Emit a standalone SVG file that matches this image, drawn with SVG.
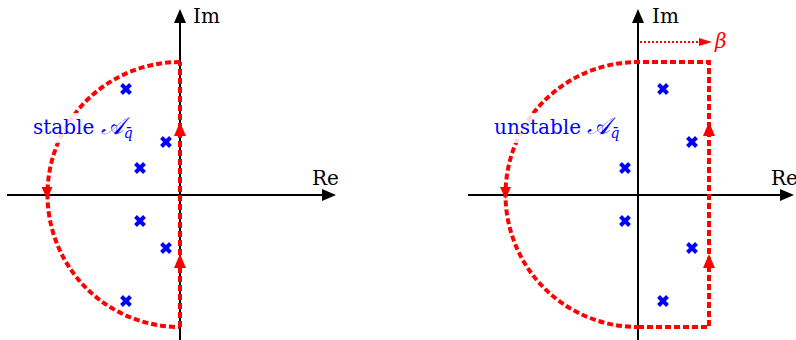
<svg xmlns="http://www.w3.org/2000/svg" width="796" height="340" viewBox="0 0 796 340">
<defs>
<style>
.axis{stroke:#000;stroke-width:2;fill:none}
.ah{fill:#000}
.contour{stroke:#ff0000;stroke-width:4;fill:none;stroke-dasharray:6 3}
.rh{fill:#ff0000}
.cross{stroke:#0000ff;stroke-width:4;stroke-linecap:butt}
.lbl{font-family:"DejaVu Serif","Liberation Serif",serif;font-size:20px;fill:#000}
.blue{font-family:"DejaVu Serif","Liberation Serif",serif;font-size:20px;fill:#0000ff}
.cal{font-size:24px;font-style:italic}
.sub{font-size:14px;font-style:italic}
.bg{fill:#fff;fill-opacity:0.85}
</style>
<path id="x" d="M-4.5,-4.5 L4.5,4.5 M-4.5,4.5 L4.5,-4.5" class="cross"/>
</defs>
<rect width="796" height="340" fill="#fff"/>

<g id="left-panel">
  <g id="left-axes">
    <line class="axis" x1="7" y1="195" x2="324" y2="195"/>
    <polygon class="ah" points="336,195 322,189 322,201"/>
    <line class="axis" x1="180" y1="340" x2="180" y2="22"/>
    <polygon class="ah" points="180,9 174,23 186,23"/>
    <text class="lbl" x="193" y="23">Im</text>
    <text class="lbl" x="312" y="185">Re</text>
  </g>
  <g id="left-contour">
    <path class="contour" d="M180,62 A132.5,132.5 0 0 0 180,327"/>
    <line class="contour" x1="180" y1="327" x2="180" y2="62"/>
    <polygon class="rh" points="180,122 174,136 186,136"/>
    <polygon class="rh" points="180,254 174,268 186,268"/>
    <polygon class="rh" points="47,199 41.5,187 52.5,187"/>
  </g>
  <g id="left-poles">
    <use href="#x" x="126" y="89"/>
    <use href="#x" x="166" y="142"/>
    <use href="#x" x="140" y="168"/>
    <use href="#x" x="140" y="221"/>
    <use href="#x" x="166" y="248"/>
    <use href="#x" x="126" y="301"/>
  </g>
  <g id="left-label">
    <rect class="bg" x="32" y="113" width="98" height="30"/>
    <text class="blue" x="33" y="134">stable <tspan class="cal">𝒜</tspan><tspan class="sub" dy="4">q̄</tspan></text>
  </g>
</g>

<g id="right-panel">
  <g id="right-axes">
    <line class="axis" x1="468" y1="195" x2="782" y2="195"/>
    <polygon class="ah" points="794,195 780,189 780,201"/>
    <line class="axis" x1="638" y1="340" x2="638" y2="22"/>
    <polygon class="ah" points="638,9 632,23 644,23"/>
    <text class="lbl" x="652" y="23">Im</text>
    <text class="lbl" x="771" y="185">Re</text>
  </g>
  <g id="right-contour">
    <path class="contour" d="M638,327 L709,327 L709,62 L638,62 A132.5,132.5 0 0 0 638,327"/>
    <polygon class="rh" points="709,122 703,136 715,136"/>
    <polygon class="rh" points="709,254 703,268 715,268"/>
    <polygon class="rh" points="505.5,199 500,187 511,187"/>
  </g>
  <g id="beta-shift">
    <line x1="640" y1="42" x2="700" y2="42" stroke="#ff0000" stroke-width="2" stroke-dasharray="2 2"/>
    <polygon class="rh" points="712,42 699,38 699,46"/>
    <text x="715" y="48" font-family="DejaVu Serif, Liberation Serif, serif" font-style="italic" font-size="20" fill="#ff0000">β</text>
  </g>
  <g id="right-poles">
    <use href="#x" x="663" y="89"/>
    <use href="#x" x="692" y="142"/>
    <use href="#x" x="625" y="168"/>
    <use href="#x" x="625" y="221"/>
    <use href="#x" x="692" y="248"/>
    <use href="#x" x="663" y="301"/>
  </g>
  <g id="right-label">
    <rect class="bg" x="492" y="113" width="110" height="30"/>
    <text class="blue" x="494" y="134">unstable <tspan class="cal">𝒜</tspan><tspan class="sub" dy="4">q̄</tspan></text>
  </g>
</g>
</svg>
